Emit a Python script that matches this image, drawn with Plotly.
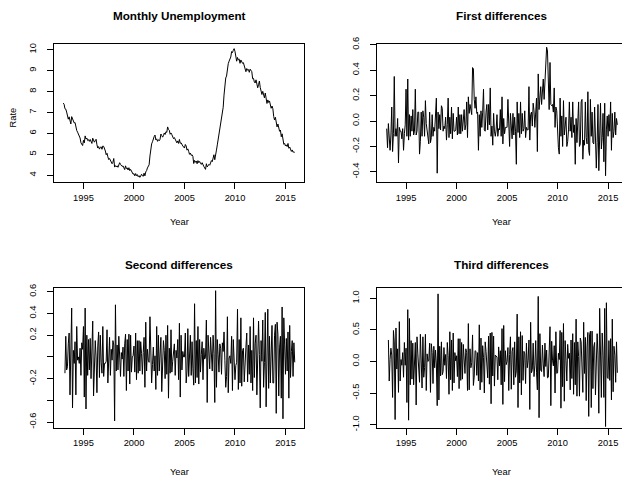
import numpy as np
import plotly.graph_objects as go

# Monthly unemployment rate, Jan 1993 - Dec 2015
start_year = 1993
rate_1993 = [7.45, 7.39, 7.18, 7.16, 7.02, 6.79, 6.68, 6.79, 6.55, 6.45, 6.80, 6.68]
rate_1994 = [6.62, 6.50, 6.52, 6.19, 6.14, 6.06, 5.98, 5.84, 5.78, 5.55, 5.45, 5.42]
rate_1995 = [5.67, 5.55, 5.88, 5.73, 5.78, 5.66, 5.70, 5.62, 5.71, 5.60, 5.52, 5.77]
rate_1996 = [5.66, 5.58, 5.65, 5.72, 5.46, 5.30, 5.37, 5.25, 5.33, 5.36, 5.24, 5.40]
rate_1997 = [5.38, 5.30, 5.16, 4.98, 5.05, 4.88, 4.75, 4.80, 4.68, 4.63, 4.55, 4.62]
rate_1998 = [4.80, 4.39, 4.46, 4.40, 4.45, 4.38, 4.50, 4.60, 4.52, 4.48, 4.42, 4.45]
rate_1999 = [4.30, 4.27, 4.45, 4.32, 4.35, 4.25, 4.36, 4.22, 4.28, 4.20, 4.12, 4.05]
rate_2000 = [4.08, 3.97, 4.08, 3.98, 4.03, 3.93, 3.98, 3.90, 3.96, 4.05, 3.98, 3.95]
rate_2001 = [4.10, 3.97, 4.16, 4.22, 4.35, 4.45, 4.50, 4.92, 5.33, 5.50, 5.60, 5.79]
rate_2002 = [5.85, 5.92, 5.69, 5.74, 5.62, 5.70, 5.65, 5.72, 5.97, 5.90, 5.82, 5.89]
rate_2003 = [6.02, 5.95, 6.08, 6.05, 6.31, 6.19, 6.15, 5.96, 6.02, 5.94, 5.82, 5.75]
rate_2004 = [5.80, 5.68, 5.62, 5.55, 5.64, 5.52, 5.71, 5.53, 5.55, 5.45, 5.40, 5.35]
rate_2005 = [5.30, 5.47, 5.40, 5.20, 5.26, 5.14, 5.00, 5.06, 4.95, 4.98, 4.90, 4.56]
rate_2006 = [4.71, 4.62, 4.68, 4.55, 4.70, 4.60, 4.66, 4.58, 4.52, 4.60, 4.47, 4.42]
rate_2007 = [4.35, 4.28, 4.55, 4.40, 4.45, 4.52, 4.48, 4.62, 4.70, 4.65, 4.80, 4.98]
rate_2008 = [4.74, 5.11, 5.20, 5.45, 5.72, 5.85, 6.10, 6.43, 6.60, 6.90, 7.25, 7.83]
rate_2009 = [8.38, 8.65, 8.74, 9.20, 9.33, 9.45, 9.58, 9.65, 9.91, 9.86, 9.97, 10.05]
rate_2010 = [9.92, 9.71, 9.45, 9.63, 9.51, 9.55, 9.35, 9.51, 9.40, 9.35, 9.38, 9.18]
rate_2011 = [9.02, 8.95, 9.10, 9.02, 9.05, 8.92, 9.07, 8.98, 8.95, 8.61, 8.63, 8.46]
rate_2012 = [8.41, 8.56, 8.36, 8.18, 8.33, 8.50, 8.20, 8.05, 7.86, 8.01, 7.88, 7.70]
rate_2013 = [7.93, 7.70, 7.43, 7.60, 7.48, 7.55, 7.38, 7.20, 7.31, 7.18, 6.81, 6.64]
rate_2014 = [6.77, 6.38, 6.31, 6.45, 6.23, 6.10, 6.16, 5.84, 5.98, 5.55, 5.48, 5.52]
rate_2015 = [5.40, 5.45, 5.37, 5.52, 5.29, 5.35, 5.22, 5.14, 5.21, 5.10, 5.12, 5.09]

rate = np.array(rate_1993 + rate_1994 + rate_1995 + rate_1996 + rate_1997 + rate_1998
                + rate_1999 + rate_2000 + rate_2001 + rate_2002 + rate_2003 + rate_2004
                + rate_2005 + rate_2006 + rate_2007 + rate_2008 + rate_2009 + rate_2010
                + rate_2011 + rate_2012 + rate_2013 + rate_2014 + rate_2015)

titles = ["Monthly Unemployment", "First differences", "Second differences", "Third differences"]
year_ticks = [1995, 2000, 2005, 2010, 2015]
y_tickvals = [
    [4, 5, 6, 7, 8, 9, 10],
    [-0.4, -0.2, 0.0, 0.2, 0.4, 0.6],
    [-0.6, -0.4, -0.2, 0.0, 0.2, 0.4, 0.6],
    [-1.0, -0.5, 0.0, 0.5, 1.0],
]
y_ticktext = [
    ["4", "5", "6", "7", "8", "9", "10"],
    ["-0.4", "-0.2", "0.0", "0.2", "0.4", "0.6"],
    ["-0.6", "", "-0.2", "", "0.2", "0.4", "0.6"],
    ["-1.0", "-0.5", "0.0", "0.5", "1.0"],
]

# ---- layout geometry (pixels) ----
W, H = 622, 477
FONT = "Liberation Sans, Arial, Helvetica, sans-serif"
boxes = [  # (left, right, top, bottom) in px
    (54.0, 304.0, 37.5, 179.5),
    (376.6, 626.6, 37.5, 179.5),
    (54.0, 304.0, 287.5, 430.5),
    (376.6, 626.6, 287.5, 430.5),
]
x_lo, x_hi = 1992.0833, 2016.8333
y_ranges = [[3.66, 10.29], [-0.482, 0.608], [-0.651, 0.636], [-1.047, 1.165]]

series = [rate, np.diff(rate, 1), np.diff(rate, 2), np.diff(rate, 3)]

fig = go.Figure()
layout = dict(
    width=W, height=H, autosize=False,
    margin=dict(l=0, r=0, t=0, b=0),
    paper_bgcolor="white", plot_bgcolor="white",
    showlegend=False,
    font=dict(family=FONT, size=9.3, color="black"),
)
annotations = []
for k in range(4):
    L, R, T, B = boxes[k]
    Rc = min(R, W)
    xr_hi = x_lo + (x_hi - x_lo) * (Rc - L) / (R - L)
    n = len(series[k])
    t = start_year + (np.arange(n) + k) / 12.0
    ax = "" if k == 0 else str(k + 1)
    fig.add_trace(go.Scatter(x=t, y=series[k], mode="lines",
                             line=dict(color="black", width=1),
                             xaxis="x" + ax, yaxis="y" + ax, hoverinfo="skip"))
    layout["xaxis" + ax] = dict(
        domain=[L / W, Rc / W], range=[x_lo, xr_hi], anchor="y" + ax,
        tickvals=year_ticks, ticktext=[str(v) for v in year_ticks],
        ticks="outside", ticklen=6, tickwidth=1, tickcolor="black",
        showline=True, mirror=True, linecolor="black", linewidth=1,
        showgrid=False, zeroline=False, ticklabelstandoff=0,
        tickfont=dict(family=FONT, size=9.3, color="black"),
    )
    layout["yaxis" + ax] = dict(
        domain=[1 - B / H, 1 - T / H], range=y_ranges[k], anchor="x" + ax,
        tickvals=y_tickvals[k], ticktext=y_ticktext[k], tickangle=-90,
        ticks="outside", ticklen=6, tickwidth=1, tickcolor="black",
        showline=True, mirror=(R <= W), linecolor="black", linewidth=1,
        showgrid=False, zeroline=False, ticklabelstandoff=7,
        tickfont=dict(family=FONT, size=9.3, color="black"),
    )
    cx = (L + R) / 2.0
    ty = 8.5 if T < 100 else 263.5
    annotations.append(dict(text="<b>" + titles[k] + "</b>", x=cx / W, y=1 - ty / H,
                            xref="paper", yref="paper", showarrow=False,
                            xanchor="center", yanchor="middle",
                            font=dict(family=FONT, size=11.7, color="black")))
    yy = 220.0 if T < 100 else 476.0
    annotations.append(dict(text="Year", x=cx / W, y=1 - yy / H,
                            xref="paper", yref="paper", showarrow=False,
                            xanchor="center", yanchor="middle",
                            font=dict(family=FONT, size=9.3, color="black")))

annotations.append(dict(text="Rate", x=13.0 / W, y=1 - 113.0 / H, textangle=-90,
                        xref="paper", yref="paper", showarrow=False,
                        xanchor="center", yanchor="middle",
                        font=dict(family=FONT, size=9.3, color="black")))
layout["annotations"] = annotations
fig.update_layout(**layout)
fig.write_html("out.html", config={"displayModeBar": False, "responsive": False},
               post_script="document.body.style.margin='0';document.body.style.padding='0';")
